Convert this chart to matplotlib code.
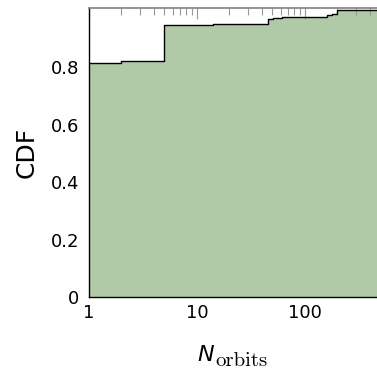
import numpy as np
import matplotlib
matplotlib.use("Agg")
import matplotlib.pyplot as plt
from matplotlib.ticker import LogLocator, FixedLocator, NullFormatter

# step positions (number of orbits) and CDF values
n_orbits = [1, 2, 5, 14, 46, 51, 61, 160, 178, 200, 500]
cdf = [0.815, 0.822, 0.948, 0.951, 0.968, 0.972, 0.975, 0.980, 0.986, 1.0, 1.0]

y_ticks = [0, 0.2, 0.4, 0.6, 0.8]
y_tick_labels = ["0", "0.2", "0.4", "0.6", "0.8"]
x_ticks = [1, 10, 100]
x_tick_labels = ["1", "10", "100"]

plt.rcParams["mathtext.fontset"] = "custom"
plt.rcParams["mathtext.it"] = "DejaVu Sans:italic"
plt.rcParams["mathtext.rm"] = "cmr10"

W, H = 377, 371
fig = plt.figure(figsize=(W / 100, H / 100), dpi=100)
ax = fig.add_axes([0.236, 0.199, 0.77, 0.779])

ax.fill_between(n_orbits, cdf, 0, step="post", color="#b0c9a6", lw=0, zorder=1)
ax.step(n_orbits, cdf, where="post", color="black", lw=1.0, zorder=2)

ax.set_xscale("log")
ax.set_xlim(1, 490)
ax.set_ylim(0, 1.005)

ax.set_yticks(y_ticks)
ax.set_yticklabels(y_tick_labels)
ax.xaxis.set_major_locator(FixedLocator(x_ticks))
ax.set_xticklabels(x_tick_labels)
ax.xaxis.set_minor_locator(LogLocator(base=10, subs=np.arange(2, 10)))
ax.xaxis.set_minor_formatter(NullFormatter())

ax.tick_params(axis="x", which="both", bottom=False, top=True, direction="in",
               labelsize=13, pad=5, colors="#999999", labelcolor="black")
ax.tick_params(axis="x", which="major", length=8, width=0.8)
ax.tick_params(axis="x", which="minor", length=5, width=0.8)
ax.tick_params(axis="y", length=0, labelsize=13, pad=7)

ax.spines["right"].set_visible(False)
ax.spines["top"].set_color("gray")
ax.spines["top"].set_linewidth(1.2)
ax.spines["left"].set_linewidth(1.0)
ax.spines["bottom"].set_linewidth(1.0)

ax.set_ylabel("CDF", fontsize=18, labelpad=9)

# x label: italic N with a roman subscript
fig.text(197 / W, 1 - 361 / H, r"$\mathit{N}$", fontsize=16, va="baseline", ha="left")
fig.text(215 / W, 1 - 366 / H, "orbits", fontsize=15, family="cmr10",
         va="baseline", ha="left")

fig.savefig("out.png", dpi=100)
